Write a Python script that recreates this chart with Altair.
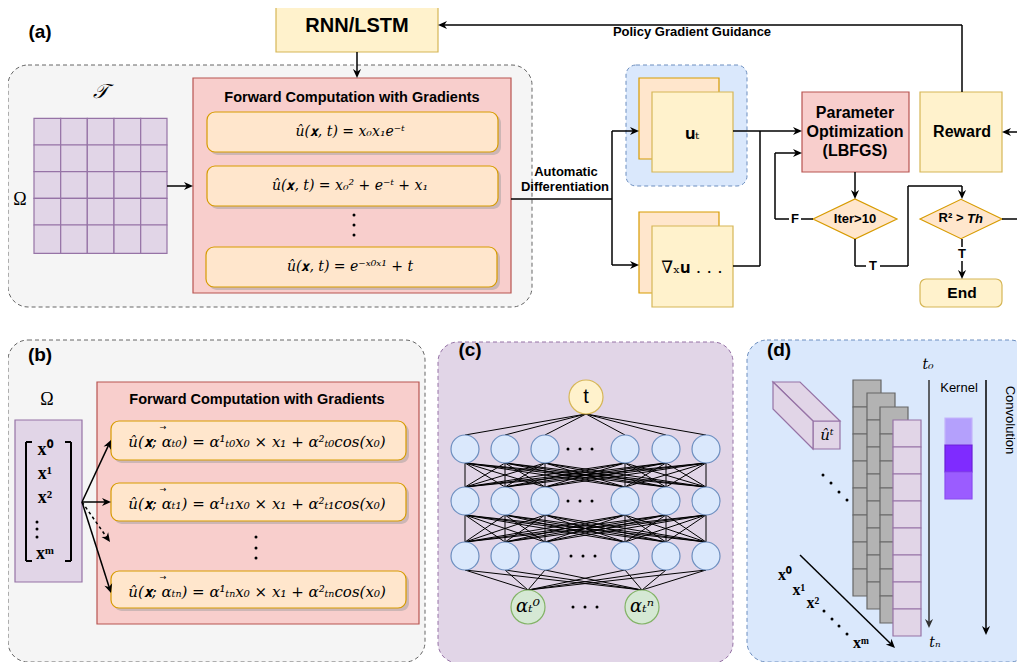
import math
import altair as alt
import pandas as pd

# ---------------- scene values (reference pixel units) ----------------
# dashed rounded panels: x, x2, y, y2, fill, stroke
panels = [
    (8, 532, 65, 307, "#f5f5f5", "#666666"),
    (8, 425, 340, 662, "#f5f5f5", "#666666"),
    (438, 733, 342, 663, "#e1d5e7", "#9673a6"),
    (747, 1030, 340, 662, "#dae8fc", "#6c8ebf"),
]
blue_group = [(626, 747, 65, 186, "#dae8fc", "#6c8ebf")]

# plain boxes
boxes = [
    (276, 438, -5, 52, "#fff2cc", "#d6b656"),      # RNN/LSTM
    (193, 511, 78, 293, "#f8cecc", "#b85450"),     # forward (a)
    (97, 419, 382, 624, "#f8cecc", "#b85450"),     # forward (b)
    (639, 719, 78, 159, "#ffe6cc", "#d79b00"),     # u_t back
    (652, 733, 92, 172, "#fff2cc", "#d6b656"),     # u_t front
    (639, 719, 212, 293, "#ffe6cc", "#d79b00"),    # grad back
    (652, 733, 226, 307, "#fff2cc", "#d6b656"),    # grad front
    (802, 909, 92, 172, "#f8cecc", "#b85450"),     # parameter optimization
    (920, 1002, 92, 172, "#fff2cc", "#d6b656"),    # reward
    (15, 82, 420, 582, "#e1d5e7", "#9673a6"),      # omega (b)
    (813, 840, 421, 449, "#e1d5e7", "#9673a6"),    # u^t cube front
]
end_box = [(920, 1002, 279, 307, "#fff2cc", "#d6b656")]

# formula boxes
formula_boxes = [
    (207, 498, 112, 152), (207, 498, 166, 206), (206, 497, 247, 287),
    (111, 406, 421, 460), (111, 406, 483, 521), (111, 406, 571, 608),
]

# grid (a)
grid_x = [34, 60.7, 87.3, 114, 140.7, 167]
grid_y = [118.3, 145, 171.7, 198.3, 225, 253.3]

# stacks (d)
stack_left = [853, 867, 880, 893]
stack_top = [380, 393, 407, 420]
stack_fill = ["#b3b3b3", "#b3b3b3", "#b3b3b3", "#e1d5e7"]
stack_stroke = ["#666666", "#666666", "#666666", "#9673a6"]
stack_w = 28
stack_cell = 27
stack_n = 8

kernel_y = [418, 445, 472, 499]
kernel_x = (945, 972)
kernel_fill = ["#b4a0fc", "#7f2bff", "#9b5cff"]
kernel_stroke = ["#c4b4fb", "#6a1fd8", "#8a4cf0"]

# polygon symbols: centre x, y, outline (unit shape), size, fill, stroke
DIAMOND = "M -1 0 L 0 -0.48 L 1 0 L 0 0.48 Z"
TOP_FACE = "M -1 -0.582 L -0.194 -0.582 L 1 0.582 L 0.194 0.582 Z"
LEFT_FACE = "M -1 -1.6625 L 1 0.2875 L 1 1.6875 L -1 -0.3125 Z"
polys = [
    (855, 219, DIAMOND, 84 ** 2, "#ffe6cc", "#d79b00"),
    (961, 219, DIAMOND, 82 ** 2, "#ffe6cc", "#d79b00"),
    (806.5, 401.5, TOP_FACE, 67 ** 2, "#e1d5e7", "#9673a6"),
    (793, 415.25, LEFT_FACE, 40 ** 2, "#e1d5e7", "#9673a6"),
]

# connector segments (x, y, x2, y2)
segments = [
    (357, 52, 357, 72),
    (962, 92, 962, 25), (962, 25, 444, 25),
    (167, 186, 187, 186),
    (511, 199, 612, 199), (612, 131, 612, 265),
    (612, 131, 633, 131), (612, 265, 633, 265),
    (733, 131, 796, 131), (733, 266, 760, 266), (760, 266, 760, 131),
    (855, 172, 855, 193),
    (813, 219, 801, 219), (789, 219, 775, 219), (775, 219, 775, 153), (775, 153, 796, 153),
    (855, 239, 855, 266), (855, 266, 866, 266), (880, 266, 908, 266),
    (908, 266, 908, 186), (908, 186, 962, 186), (962, 186, 962, 193),
    (1002, 219, 1030, 219),
    (962, 239, 962, 247), (962, 261, 962, 273),
    (1030, 132, 1008, 132),
    (986, 380, 986, 629),
    (800, 555, 891, 644),
]
b_from = (82, 502)
b_targets = [(111, 440), (111, 502), (111, 593)]
b_dashed_target = (110, 542)
dark_segments = [(929, 380, 929, 622)]
bracket_segments = [
    (26, 442, 26, 561), (26, 442, 32, 442), (26, 561, 32, 561),
    (71, 442, 71, 561), (65, 442, 71, 442), (65, 561, 71, 561),
]

# arrow tips (x, y, angle in degrees)
tips = [
    (357, 78, 90), (438, 25, 180), (193, 186, 0), (639, 131, 0), (639, 265, 0),
    (802, 131, 0), (802, 153, 0), (855, 199, 90), (962, 199, 90), (962, 279, 90),
    (1002, 132, 180), (986, 635, 90),
]
dark_tips = [(929, 628, 90)]

# neural network (c)
t_node = (586, 397)
hidden_x = [465, 505, 545, 625, 666, 706]
hidden_y = [449, 501, 556]
out_x = [528, 642]
out_y = 607
r_hidden = 14
r_big = 17

# small dots
dots = [
    (354, 215), (354, 225), (354, 235),
    (256, 537), (256, 548), (256, 558),
    (37, 522), (37, 529), (37, 537),
    (568, 449), (580, 449), (592, 449),
    (568, 501), (580, 501), (592, 501),
    (571, 556), (583, 556), (595, 556),
    (573, 607), (585, 607), (597, 607),
    (823, 475), (831, 483), (839, 492), (847, 500),
    (824, 611), (832, 619), (839, 626), (847, 634),
]

# texts: (text, x, y, size)
bold_texts = [
    ("(a)", 40, 32, 19), ("RNN/LSTM", 357, 26, 20), ("Policy Gradient Guidance", 692, 32, 13),
    ("Forward Computation with Gradients", 352, 98, 14.5),
    ("Automatic", 566, 172, 13), ("Differentiation", 565, 187, 13),
    ("Parameter", 855, 113, 16), ("Optimization", 855, 132, 16), ("(LBFGS)", 855, 151, 16),
    ("Reward", 962, 132, 16), ("Iter>10", 855, 219, 13), ("R² >", 951, 218, 13),
    ("F", 795, 219, 13), ("T", 873, 266, 13), ("T", 962, 254, 13), ("End", 962, 293, 15.5),
    ("(b)", 40, 355, 19), ("Forward Computation with Gradients", 257, 400, 14.5),
    ("(c)", 470, 350, 19), ("(d)", 779, 350, 19),
]
bold_italic_texts = [("Th", 975, 219, 13)]
regular_texts = [("Kernel", 959, 388, 13, 0), ("Convolution", 1010, 420, 13, 90), ("t", 586, 397, 20, 0)]
math_texts = [
    ("û(𝐱, t) = x₀x₁e⁻ᵗ", 350, 132, 14),
    ("û(𝐱, t) = x₀² + e⁻ᵗ + x₁", 350, 186, 14),
    ("û(𝐱, t) = e⁻ˣ⁰ˣ¹ + t", 350, 267, 14),
    ("û(𝐱; αₜ₀) = α¹ₜ₀x₀ × x₁ + α²ₜ₀cos(x₀)", 257, 442, 15),
    ("û(𝐱; αₜ₁) = α¹ₜ₁x₀ × x₁ + α²ₜ₁cos(x₀)", 257, 504, 15),
    ("û(𝐱; αₜₙ) = α¹ₜₙx₀ × x₁ + α²ₜₙcos(x₀)", 257, 592, 15),
    ("αₜ⁰", 528, 607, 18), ("αₜⁿ", 642, 607, 18),
    ("t₀", 928, 365, 14), ("tₙ", 935, 643, 14), ("ûᵗ", 827, 435, 15),
]
vector_arrows = [("→", 163, 428, 8), ("→", 163, 490, 8), ("→", 163, 578, 8)]
upright_math = [("𝐮ₜ", 692, 134, 17), ("∇ₓ𝐮 . . .", 692, 268, 17)]
script_texts = [("𝒯", 100, 92, 20)]
serif_texts = [("Ω", 20, 200, 18), ("Ω", 47, 400, 18)]
bold_serif_texts = [
    ("x⁰", 45, 450, 18), ("x¹", 45, 474, 18), ("x²", 45, 498, 18), ("xᵐ", 45, 554, 18),
    ("x⁰", 785, 575, 16), ("x¹", 799, 590, 16), ("x²", 813, 603, 16), ("xᵐ", 861, 643, 16),
]

# ---------------- build tables ----------------
W, H = 1009, 654
sx = alt.Scale(domain=[8, 8 + W], nice=False, zero=False)
sy = alt.Scale(domain=[8, 8 + H], nice=False, zero=False, reverse=True)
X = lambda f="x": alt.X(f"{f}:Q", scale=sx, axis=None)
Y = lambda f="y": alt.Y(f"{f}:Q", scale=sy, axis=None)


def rect_df(rows):
    return pd.DataFrame(rows, columns=["x", "x2", "y", "y2", "fill", "stroke"])


def rect_layer(rows, **mk):
    return alt.Chart(rect_df(rows)).mark_rect(**mk).encode(
        x=X(), x2="x2:Q", y=Y(), y2="y2:Q",
        fill=alt.Fill("fill:N", scale=None), stroke=alt.Stroke("stroke:N", scale=None))


cells = []
for i in range(5):
    for j in range(5):
        cells.append((grid_x[i], grid_x[i + 1], grid_y[j], grid_y[j + 1], "#e1d5e7", "#9673a6"))
for c in range(4):
    for k in range(stack_n):
        y0 = stack_top[c] + k * stack_cell
        cells.append((stack_left[c], stack_left[c] + stack_w, y0, y0 + stack_cell, stack_fill[c], stack_stroke[c]))
for k in range(3):
    cells.append((kernel_x[0], kernel_x[1], kernel_y[k], kernel_y[k + 1], kernel_fill[k], kernel_stroke[k]))

fb = [(a, b, c, d, "#ffe6cc", "#d79b00") for a, b, c, d in formula_boxes]
shadows = [(a + 3, b + 3, c + 3, d + 3, "#999999", "#999999") for a, b, c, d in formula_boxes]

layers = []
layers.append(rect_layer(panels, cornerRadius=20, strokeDash=[4, 3], strokeWidth=1))
layers.append(rect_layer(blue_group, cornerRadius=10, strokeDash=[4, 3], strokeWidth=1))
layers.append(rect_layer(boxes, strokeWidth=1.2))
layers.append(rect_layer(end_box, cornerRadius=6, strokeWidth=1.2))
layers.append(rect_layer(cells, strokeWidth=1.2))
layers.append(rect_layer(shadows, cornerRadius=8, opacity=0.45, strokeWidth=0))
layers.append(rect_layer(fb, cornerRadius=8, strokeWidth=1.2))

pdf = pd.DataFrame(polys, columns=["x", "y", "shape", "s", "fill", "stroke"])
layers.append(alt.Chart(pdf).mark_point(filled=True, opacity=1, strokeWidth=1.2).encode(
    x=X(), y=Y(), shape=alt.Shape("shape:N", scale=None), size=alt.Size("s:Q", scale=None),
    fill=alt.Fill("fill:N", scale=None), stroke=alt.Stroke("stroke:N", scale=None)))


def seg_layer(rows, **mk):
    d = pd.DataFrame(rows, columns=["x", "y", "x2", "y2"])
    return alt.Chart(d).mark_rule(**mk).encode(x=X(), y=Y(), x2="x2:Q", y2="y2:Q")


def shorten(p, q, by):
    dx, dy = q[0] - p[0], q[1] - p[1]
    L = math.hypot(dx, dy)
    return (q[0] - dx / L * by, q[1] - dy / L * by)


def heading(p, q):
    return math.degrees(math.atan2(q[1] - p[1], q[0] - p[0])) % 360


b_segs = []
b_tips = []
for t in b_targets:
    e = shorten(b_from, t, 6)
    b_segs.append((b_from[0], b_from[1], e[0], e[1]))
    b_tips.append((t[0], t[1], heading(b_from, t)))
e = shorten(b_from, b_dashed_target, 6)
b_dash = [(b_from[0], b_from[1], e[0], e[1])]
b_tips.append((b_dashed_target[0], b_dashed_target[1], heading(b_from, b_dashed_target)))
diag_tip = (895, 648, heading((800, 555), (895, 648)))

# NN edges
nn = []
for hx in hidden_x:
    nn.append((t_node[0], t_node[1] + r_big, hx, hidden_y[0] - r_hidden))
for li in range(2):
    for a in hidden_x:
        for b in hidden_x:
            nn.append((a, hidden_y[li] + r_hidden, b, hidden_y[li + 1] - r_hidden))
for a in hidden_x:
    for ox in out_x:
        nn.append((a, hidden_y[2] + r_hidden, ox, out_y - r_big))

layers.append(seg_layer(nn, color="black", strokeWidth=1))
layers.append(seg_layer(segments + b_segs, color="black", strokeWidth=1.5))
layers.append(seg_layer(bracket_segments, color="black", strokeWidth=2))
layers.append(seg_layer(dark_segments, color="#333333", strokeWidth=1.5))
layers.append(seg_layer(b_dash, color="black", strokeWidth=1.5, strokeDash=[3, 3]))

ARROW = "M 0 0 L -1 -0.45 L -0.7 0 L -1 0.45 Z"
tip_df = pd.DataFrame(
    [(x, y, a, "black") for x, y, a in tips + b_tips + [diag_tip]] +
    [(x, y, a, "#333333") for x, y, a in dark_tips],
    columns=["x", "y", "a", "c"])
layers.append(alt.Chart(tip_df).mark_point(shape=ARROW, filled=True, size=324, opacity=1, strokeWidth=0).encode(
    x=X(), y=Y(), angle=alt.Angle("a:Q", scale=None), fill=alt.Fill("c:N", scale=None)))

# nodes
nodes = [(t_node[0], t_node[1], (2 * r_big) ** 2, "#fff2cc", "#d6b656")]
for hy in hidden_y:
    for hx in hidden_x:
        nodes.append((hx, hy, (2 * r_hidden) ** 2, "#dae8fc", "#6c8ebf"))
for ox in out_x:
    nodes.append((ox, out_y, (2 * r_big) ** 2, "#d5e8d4", "#82b366"))
nd = pd.DataFrame(nodes, columns=["x", "y", "s", "fill", "stroke"])
layers.append(alt.Chart(nd).mark_point(shape="circle", filled=True, opacity=1, strokeWidth=1.2).encode(
    x=X(), y=Y(), size=alt.Size("s:Q", scale=None),
    fill=alt.Fill("fill:N", scale=None), stroke=alt.Stroke("stroke:N", scale=None)))

dd = pd.DataFrame(dots, columns=["x", "y"])
layers.append(alt.Chart(dd).mark_circle(size=9, opacity=1, color="black").encode(x=X(), y=Y()))


def text_layer(rows, font, weight="normal", style="normal", color="black"):
    cols = ["t", "x", "y", "s"] if len(rows[0]) == 4 else ["t", "x", "y", "s", "a"]
    d = pd.DataFrame(rows, columns=cols)
    enc = dict(x=X(), y=Y(), text="t:N", size=alt.Size("s:Q", scale=None))
    if "a" in cols:
        enc["angle"] = alt.Angle("a:Q", scale=None)
    return alt.Chart(d).mark_text(font=font, fontWeight=weight, fontStyle=style, color=color,
                                  align="center", baseline="middle").encode(**enc)


layers.append(text_layer(bold_texts, "Liberation Sans", weight="bold"))
layers.append(text_layer(bold_italic_texts, "Liberation Sans", weight="bold", style="italic"))
layers.append(text_layer(regular_texts, "Liberation Sans"))
layers.append(text_layer(math_texts, "DejaVu Serif", style="italic"))
layers.append(text_layer(vector_arrows, "DejaVu Sans"))
layers.append(text_layer(upright_math, "DejaVu Serif"))
layers.append(text_layer(script_texts, "Liberation Serif", style="italic"))
layers.append(text_layer(serif_texts, "Liberation Serif"))
layers.append(text_layer(bold_serif_texts, "Liberation Serif", weight="bold"))

chart = alt.layer(*layers).properties(
    width=W, height=H, padding=0, background="white",
    autosize=alt.AutoSizeParams(type="none"),
).configure_view(stroke=None)

chart.save("out.html", embed_options={"renderer": "svg", "actions": False})
